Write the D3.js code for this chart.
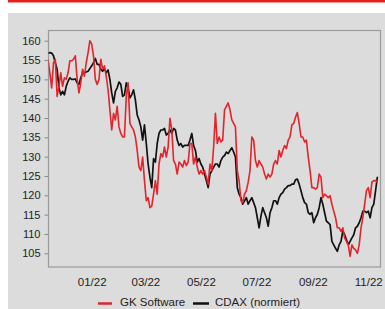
<!DOCTYPE html>
<html><head><meta charset="utf-8">
<script src="https://cdn.jsdelivr.net/npm/d3@7"></script>
<style>html,body{margin:0;padding:0;background:#fff;}svg{display:block;}</style>
</head><body>
<script>
const dates = [
"2021-11-14","2021-11-16","2021-11-18","2021-11-20","2021-11-22","2021-11-24","2021-11-26","2021-11-28","2021-11-30",
"2021-12-02","2021-12-04","2021-12-06","2021-12-08","2021-12-10","2021-12-12","2021-12-14","2021-12-16","2021-12-18","2021-12-20","2021-12-22","2021-12-24","2021-12-26","2021-12-28","2021-12-30",
"2022-01-01","2022-01-03","2022-01-05","2022-01-07","2022-01-09","2022-01-11","2022-01-13","2022-01-15","2022-01-17","2022-01-19","2022-01-21","2022-01-23","2022-01-25","2022-01-27","2022-01-29","2022-01-31",
"2022-02-02","2022-02-04","2022-02-06","2022-02-08","2022-02-10","2022-02-12","2022-02-14","2022-02-16","2022-02-18","2022-02-20","2022-02-22","2022-02-24","2022-02-26","2022-02-28",
"2022-03-02","2022-03-04","2022-03-06","2022-03-08","2022-03-10","2022-03-12","2022-03-14","2022-03-16","2022-03-18","2022-03-20","2022-03-22","2022-03-24","2022-03-26","2022-03-28","2022-03-30",
"2022-04-01","2022-04-03","2022-04-05","2022-04-07","2022-04-09","2022-04-11","2022-04-13","2022-04-15","2022-04-17","2022-04-19","2022-04-21","2022-04-23","2022-04-25","2022-04-27","2022-04-29",
"2022-05-01","2022-05-03","2022-05-05","2022-05-07","2022-05-09","2022-05-11","2022-05-13","2022-05-15","2022-05-17","2022-05-19","2022-05-21","2022-05-23","2022-05-25","2022-05-27","2022-05-29","2022-05-31",
"2022-06-02","2022-06-04","2022-06-06","2022-06-08","2022-06-10","2022-06-12","2022-06-14","2022-06-16","2022-06-18","2022-06-20","2022-06-22","2022-06-24","2022-06-26","2022-06-28","2022-06-30",
"2022-07-02","2022-07-04","2022-07-06","2022-07-08","2022-07-10","2022-07-12","2022-07-14","2022-07-16","2022-07-18","2022-07-20","2022-07-22","2022-07-24","2022-07-26","2022-07-28","2022-07-30",
"2022-08-01","2022-08-03","2022-08-05","2022-08-07","2022-08-09","2022-08-11","2022-08-13","2022-08-15","2022-08-17","2022-08-19","2022-08-21","2022-08-23","2022-08-25","2022-08-27","2022-08-29","2022-08-31",
"2022-09-02","2022-09-04","2022-09-06","2022-09-08","2022-09-10","2022-09-12","2022-09-14","2022-09-16","2022-09-18","2022-09-20","2022-09-22","2022-09-24","2022-09-26","2022-09-28","2022-09-30",
"2022-10-02","2022-10-04","2022-10-06","2022-10-08","2022-10-10","2022-10-12","2022-10-14","2022-10-16","2022-10-18","2022-10-20","2022-10-22","2022-10-24","2022-10-26","2022-10-28","2022-10-30",
"2022-11-01","2022-11-03","2022-11-05","2022-11-07","2022-11-09","2022-11-11"
];

const gkSoftware = [
155.2,151.7,147.8,154.3,155.2,145.6,
148.2,151.7,148.2,150.4,150.0,151.7,154.8,154.8,155.2,156.1,150.0,
146.5,149.1,152.6,150.8,154.3,156.9,160.0,159.1,156.1,150.0,148.7,
150.0,155.2,152.6,153.5,150.8,147.3,142.1,136.9,141.2,139.5,143.0,
137.7,136.0,135.1,135.1,145.6,149.1,138.6,137.7,136.9,135.1,
131.6,127.3,126.4,129.9,123.8,118.6,119.4,116.8,117.2,120.3,123.8,
120.3,128.1,130.8,129.9,132.5,129.9,132.5,139.9,136.9,129.0,128.1,
125.5,128.6,128.1,127.3,129.0,127.7,128.6,133.4,133.4,128.1,129.9,
127.3,125.5,126.4,125.5,126.4,124.7,122.9,128.1,126.4,132.5,141.2,
133.4,135.1,133.8,134.3,142.1,143.0,143.9,142.1,139.5,138.6,137.7,
126.4,123.8,118.6,118.1,120.3,121.2,123.4,126.4,135.1,134.3,129.0,
127.3,129.0,128.1,127.3,125.5,124.2,125.5,124.7,125.5,128.1,
129.0,128.1,131.6,129.9,131.6,132.9,132.1,134.3,135.1,138.2,138.6,
140.2,141.4,138.6,135.1,135.1,133.8,134.3,129.9,126.4,122.0,122.0,
121.6,122.0,125.5,124.7,119.4,120.3,119.9,119.4,119.9,117.7,115.9,
114.2,111.6,111.6,110.7,111.6,109.0,108.1,107.2,104.2,107.2,106.3,
105.9,105.0,107.2,111.6,114.2,117.7,121.2,122.0,119.4,123.4,123.8,
123.8,123.4
];

const cdax = [
156.8,156.9,156.8,156.1,154.3,152.6,
147.8,146.0,146.9,146.0,148.2,149.5,150.4,150.0,150.0,150.1,149.1,
148.7,150.4,151.7,151.7,151.9,152.1,152.8,153.5,154.3,155.4,153.9,
153.9,152.6,152.1,152.8,151.7,152.4,150.0,146.5,143.9,146.9,147.8,
149.3,148.7,145.6,146.0,149.1,147.8,145.2,146.0,147.3,144.7,
140.8,139.5,137.7,134.3,138.2,133.4,128.1,124.7,122.0,129.5,128.6,
133.4,136.0,136.9,136.9,137.3,135.6,136.0,136.9,136.0,137.3,136.9,
134.3,132.9,133.4,132.5,132.9,132.9,132.9,134.3,136.0,132.9,131.6,
128.6,129.5,128.1,127.3,125.5,123.8,122.0,125.5,126.4,127.3,128.1,
128.1,127.3,129.0,129.9,130.3,131.2,130.8,131.6,132.3,131.2,129.9,
122.0,120.3,119.4,117.7,118.6,119.4,117.7,118.6,119.4,118.1,116.8,
114.2,111.6,114.6,116.8,115.5,114.2,112.0,115.5,116.8,118.6,
118.6,117.7,119.4,120.3,120.7,121.6,122.0,122.5,122.5,122.9,122.9,
124.0,124.2,122.9,121.2,119.4,118.1,117.7,115.5,115.1,115.5,112.9,
114.2,115.1,116.8,119.4,117.7,115.5,113.3,112.9,112.4,108.1,107.2,
106.3,105.5,107.2,108.1,110.7,109.8,108.5,107.2,108.1,109.0,109.8,
111.6,112.0,112.9,114.2,115.9,115.9,115.5,115.9,114.2,116.8,117.7,
121.2,124.8
];

const yTicks = [105,110,115,120,125,130,135,140,145,150,155,160];
const xTickDates = ["2022-01-01","2022-03-01","2022-05-01","2022-07-01","2022-09-01","2022-11-01"];
const xTickLabels = ["01/22","03/22","05/22","07/22","09/22","11/22"];
const seriesNames = ["GK Software","CDAX (normiert)"];

const W = 385, H = 309;
const FONT = "'Liberation Sans', Arial, sans-serif";
const RED = "#e4232a", BLACK = "#111111";
const parse = d3.utcParse("%Y-%m-%d");

const svg = d3.select("body").append("svg").attr("width", W).attr("height", H);
svg.append("rect").attr("x",0).attr("y",0).attr("width",W).attr("height",H).attr("fill","#fff");
svg.append("rect").attr("x",8).attr("y",0).attr("width",W-8).attr("height",2.5).attr("fill","#e3201f");
svg.append("rect").attr("x",8).attr("y",13).attr("width",W-8).attr("height",H-13).attr("fill","#dcdcdc");

const plot = {l:48.5, r:380.5, t:30.5, b:267};
const x = d3.scaleUtc().domain([parse("2022-01-01"), parse("2022-11-01")]).range([91.7, 368.3]);
const y = d3.scaleLinear().domain([160,105]).range([40.7, 253.3]);

// frame
svg.append("rect").attr("x",plot.l).attr("y",plot.t).attr("width",plot.r-plot.l).attr("height",plot.b-plot.t)
  .attr("fill","none").attr("stroke","#9a9a9a").attr("stroke-width",1.2);

// y axis
const yAxis = d3.axisLeft(y).tickValues(yTicks).tickSize(4).tickPadding(4).tickFormat(d3.format("d"));
const gy = svg.append("g").attr("transform",`translate(${plot.l},0)`).call(yAxis);
gy.select(".domain").remove();
gy.selectAll(".tick line").attr("stroke","#8a8a8a");
gy.selectAll(".tick text").attr("font-family",FONT).attr("font-size",11).attr("fill","#222");

// x axis labels
const xAxis = d3.axisBottom(x).tickValues(xTickDates.map(parse)).tickSize(0).tickPadding(11)
  .tickFormat((d,i)=>xTickLabels[i]);
const gx = svg.append("g").attr("transform",`translate(0,${plot.b})`).call(xAxis);
gx.select(".domain").remove();
gx.selectAll(".tick text").attr("font-family",FONT).attr("font-size",11.5).attr("fill","#222");

// lines
const clip = svg.append("clipPath").attr("id","pc").append("rect")
  .attr("x",plot.l).attr("y",plot.t).attr("width",plot.r-plot.l).attr("height",plot.b-plot.t);
const line = d3.line().x((d,i)=>x(parse(dates[i]))).y(d=>y(d));
const g = svg.append("g").attr("clip-path","url(#pc)");
g.append("path").datum(cdax).attr("d",line).attr("fill","none").attr("stroke",BLACK).attr("stroke-width",1.7).attr("stroke-linejoin","round");
g.append("path").datum(gkSoftware).attr("d",line).attr("fill","none").attr("stroke",RED).attr("stroke-width",1.6).attr("stroke-linejoin","round");

// legend
const leg = svg.append("g").attr("font-family",FONT).attr("font-size",11.5).attr("fill","#222");
const legItems = [
  {name:seriesNames[0], color:RED, x1:98, x2:112, tx:120},
  {name:seriesNames[1], color:BLACK, x1:193, x2:209, tx:215}
];
legItems.forEach(it=>{
  leg.append("line").attr("x1",it.x1).attr("x2",it.x2).attr("y1",303.5).attr("y2",303.5)
    .attr("stroke",it.color).attr("stroke-width",2.5);
  leg.append("text").attr("x",it.tx).attr("y",306).text(it.name);
});
</script>
</body></html>
